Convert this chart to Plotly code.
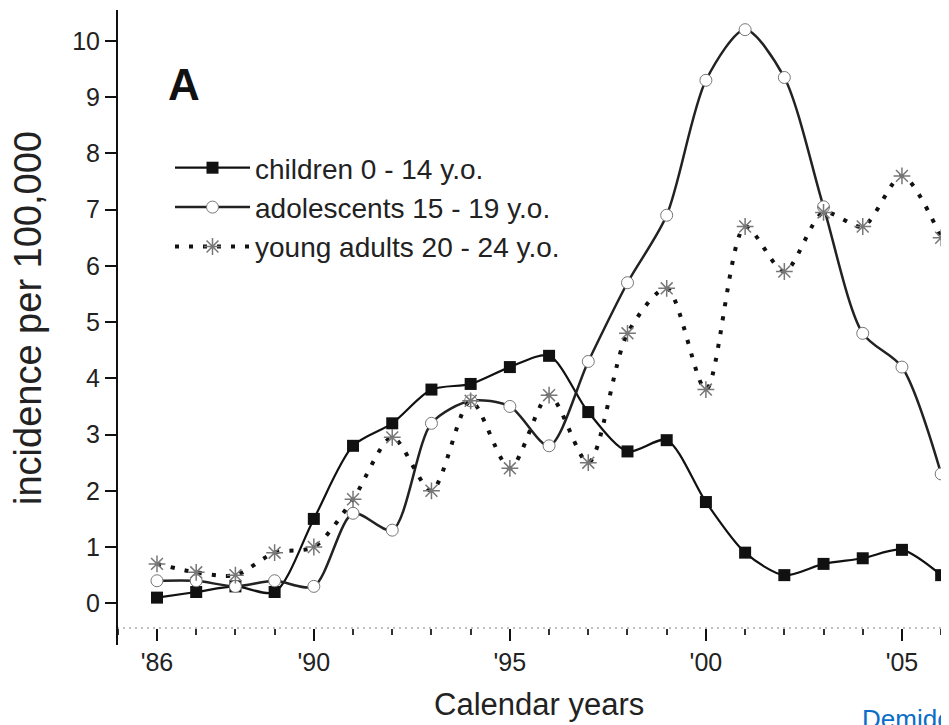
import plotly.graph_objects as go

years = list(range(1986, 2007))
children = [0.1, 0.2, 0.3, 0.2, 1.5, 2.8, 3.2, 3.8, 3.9, 4.2, 4.4, 3.4, 2.7, 2.9, 1.8, 0.9, 0.5, 0.7, 0.8, 0.95, 0.5]
adolescents = [0.4, 0.4, 0.3, 0.4, 0.3, 1.6, 1.3, 3.2, 3.6, 3.5, 2.8, 4.3, 5.7, 6.9, 9.3, 10.2, 9.35, 7.05, 4.8, 4.2, 2.3]
young_adults = [0.7, 0.55, 0.5, 0.9, 1.0, 1.85, 2.95, 2.0, 3.6, 2.4, 3.7, 2.5, 4.8, 5.6, 3.8, 6.7, 5.9, 6.95, 6.7, 7.6, 6.5]

names = ["children 0 - 14 y.o.", "adolescents 15 - 19 y.o.", "young adults 20 - 24 y.o."]
tick_vals = [1986, 1990, 1995, 2000, 2005]
tick_text = ["'86", "'90", "'95", "'00", "'05"]
y_ticks = list(range(0, 11))

FONT = "Liberation Sans, Arial, sans-serif"

# plot area in page pixels: left 117, top 10, width 832, height 618
def px(xp):
    return (xp - 117) / 832

def py(yp):
    return 1 - (yp - 10) / 618

fig = go.Figure()
fig.add_trace(go.Scatter(
    x=years, y=children, name=names[0], mode="lines+markers", legendgroup="a",
    line=dict(color="#111111", width=2.2, shape="spline", smoothing=0.8),
    marker=dict(symbol="square", size=12, color="#111111"),
))
fig.add_trace(go.Scatter(
    x=years, y=adolescents, name=names[1], mode="lines+markers", legendgroup="b",
    line=dict(color="#222222", width=2.5, shape="spline", smoothing=0.8),
    marker=dict(symbol="circle", size=12, color="white", line=dict(color="#777777", width=1)),
))
fig.add_trace(go.Scatter(
    x=years, y=young_adults, name=names[2], mode="lines+markers", legendgroup="c",
    line=dict(color="#111111", width=4, dash="4px,10px", shape="spline", smoothing=0.8),
    marker=dict(symbol="asterisk-open", size=14, color="#777777", line=dict(color="#777777", width=1.5)),
))

# dotted baseline for x axis
fig.add_shape(type="line", xref="paper", yref="paper", x0=0, x1=1, y0=0, y1=0,
              line=dict(color="#aaaaaa", width=1.5, dash="2px,4px"))
# y axis line extended below baseline
fig.add_shape(type="line", xref="paper", yref="paper", x0=0, x1=0, y0=py(645), y1=1,
              line=dict(color="#111111", width=2))

fig.add_annotation(text="<b>A</b>", xref="paper", yref="paper", x=px(184), y=py(84),
                   xanchor="center", yanchor="middle",
                   showarrow=False, font=dict(family=FONT, size=44, color="#111111"))
fig.add_annotation(text="incidence per 100,000", xref="paper", yref="paper", x=px(28), y=py(318),
                   xanchor="center", yanchor="middle",
                   textangle=-90, showarrow=False, font=dict(family=FONT, size=38, color="#222222"))
fig.add_annotation(text="Calendar years", xref="paper", yref="paper", x=px(539), y=py(704),
                   xanchor="center", yanchor="middle",
                   showarrow=False, font=dict(family=FONT, size=31, color="#222222"))
fig.add_annotation(text="Demidchik et al.", xref="paper", yref="paper", x=px(860), y=py(736),
                   xanchor="left", yanchor="bottom", showarrow=False,
                   font=dict(family=FONT, size=26, color="#0a6ec8"))

fig.update_layout(
    width=949, height=725,
    margin=dict(l=109, r=8, t=2, b=105),
    paper_bgcolor="white", plot_bgcolor="white",
    font=dict(family=FONT, size=16, color="#222222"),
    showlegend=True,
    legend=dict(x=px(170), y=py(143), xanchor="left", yanchor="top",
                bgcolor="rgba(0,0,0,0)", font=dict(family=FONT, size=28, color="#222222"),
                itemwidth=75, tracegroupgap=0),
    xaxis=dict(range=[1984.98, 2006.2], showgrid=False, zeroline=False, showline=False,
               tickvals=tick_vals, ticktext=tick_text, ticks="outside", ticklen=12, tickwidth=2,
               tickcolor="#111111", tickfont=dict(family=FONT, size=25, color="#222222"),
               minor=dict(dtick=1, tick0=1986, ticks="outside", ticklen=6, tickwidth=2, tickcolor="#333333")),
    yaxis=dict(range=[-0.44, 10.55], showgrid=False, zeroline=False, showline=False,
               tickvals=y_ticks, ticks="outside", ticklen=11, tickwidth=2, tickcolor="#111111",
               tickfont=dict(family=FONT, size=25, color="#222222")),
)

fig.write_html("out.html")
